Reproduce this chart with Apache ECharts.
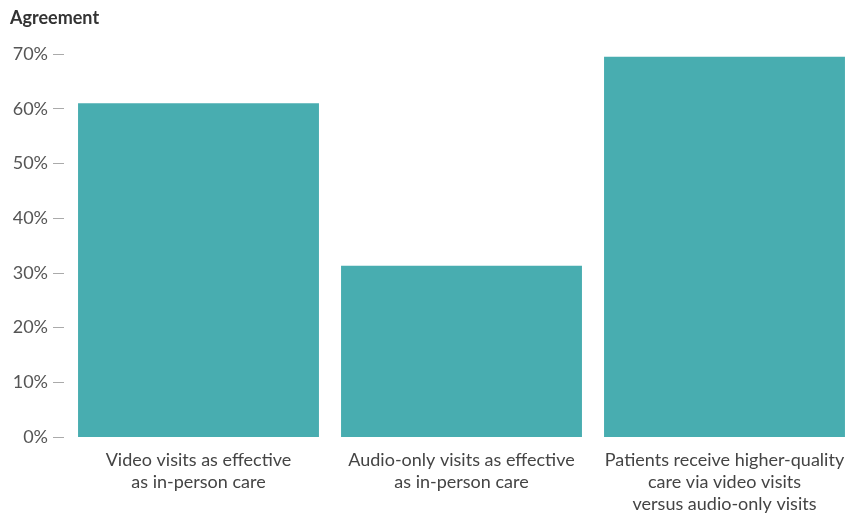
<!DOCTYPE html>
<html>
<head>
<meta charset="utf-8">
<script src="https://cdn.jsdelivr.net/npm/echarts@6/dist/echarts.min.js"></script>
<style>
  html, body { margin: 0; padding: 0; background: #fff; }
  #chart { width: 861px; height: 514px; }
</style>
</head>
<body>
<div id="chart"></div>
<script>
// data
const categories = [
  "Video visits as effective\nas in-person care",
  "Audio-only visits as effective\nas in-person care",
  "Patients receive higher-quality\ncare via video visits\nversus audio-only visits"
];
const agreement = [61, 31.3, 69.5];
const yTicks = [0, 10, 20, 30, 40, 50, 60, 70];

const chart = echarts.init(document.getElementById("chart"));
chart.setOption({
  animation: false,
  title: {
    text: "Agreement",
    left: 5,
    top: 4,
    textStyle: { fontFamily: "Lato", fontSize: 18, fontWeight: "bold", color: "#333" }
  },
  grid: { left: 67, right: 5, top: 54, bottom: 77, outerBoundsMode: "none" },
  xAxis: {
    type: "category",
    data: categories,
    axisLine: { show: false },
    axisTick: { show: false },
    axisLabel: {
      margin: 12,
      fontFamily: "Lato",
      fontSize: 18,
      lineHeight: 22,
      color: "#444",
      interval: 0
    }
  },
  yAxis: {
    type: "value",
    min: yTicks[0],
    max: yTicks[yTicks.length - 1],
    interval: 10,
    offset: 3,
    splitLine: { show: false },
    axisLine: { show: false },
    axisTick: { show: true, length: 11, lineStyle: { color: "#aaa" } },
    axisLabel: {
      margin: 16,
      fontFamily: "Lato",
      fontSize: 18,
      color: "#555",
      formatter: "{value}%"
    }
  },
  series: [{
    type: "bar",
    data: agreement,
    barCategoryGap: "8.4%",
    itemStyle: { color: "#48adb0" }
  }]
});
</script>
</body>
</html>
